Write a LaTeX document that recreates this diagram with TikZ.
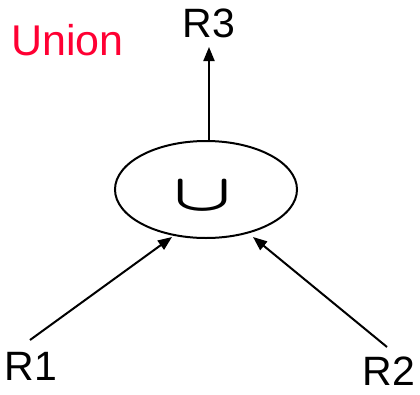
\documentclass[tikz,border=0pt]{standalone}
\usepackage{fontspec}
\setmainfont{Liberation Sans}
\usetikzlibrary{arrows.meta,shapes.geometric}
\definecolor{unionred}{RGB}{255,0,51}
\tikzset{
  lbl/.style={font=\fontsize{41}{41}\selectfont, inner sep=0pt, anchor=base},
  conn/.style={line width=2pt, -{Triangle[length=14pt,width=11pt]}},
  op/.style={ellipse, draw, line width=2pt, minimum width=182pt, minimum height=97pt, inner sep=0pt}
}
\begin{document}
\begin{tikzpicture}[x=1pt,y=-1pt]
\useasboundingbox (0,0) rectangle (420,394);
\node[lbl, text=unionred, font=\fontsize{43}{43}\selectfont, anchor=base west] (title) at (11,55) {Union};
\node[op] (u) at (206,189.5) {};
\node[inner sep=0pt] (cup) at (202.5,196) {\scalebox{7.6}[5.2]{\boldmath$\cup$}};
\node[lbl] (r3) at (209,37) {R3};
\node[lbl] (r1) at (31,380) {R1};
\node[lbl] (r2) at (389,385) {R2};
\coordinate (r1s) at (30,340);
\coordinate (r2s) at (387,347);
\coordinate (r3e) at (209,47);
\coordinate (u1) at (172,237);
\coordinate (u2) at (253,237);
\coordinate (u3) at (209,141);
\draw[conn] (r1s) -- (u1);
\draw[conn] (r2s) -- (u2);
\draw[conn] (u3) -- (r3e);
\end{tikzpicture}
\end{document}
